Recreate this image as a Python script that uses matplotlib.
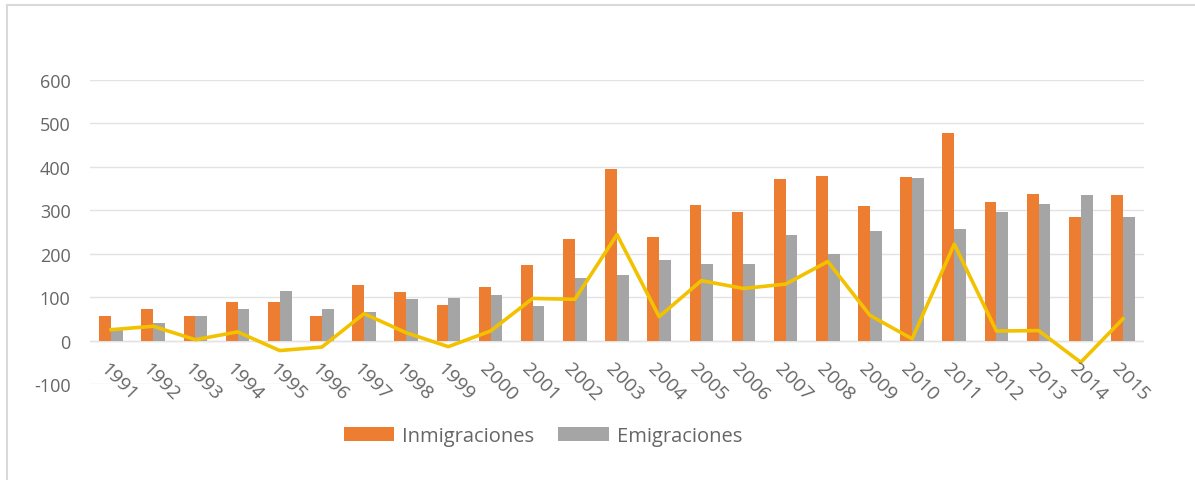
import numpy as np
import matplotlib.pyplot as plt
from matplotlib.lines import Line2D

years = [str(y) for y in range(1991, 2016)]
inmigraciones = [56, 73, 56, 88, 88, 56, 128, 111, 82, 124, 174, 235, 395, 238, 313,
                 295, 373, 379, 309, 376, 479, 318, 338, 285, 336]
emigraciones = [30, 40, 56, 72, 113, 72, 66, 96, 99, 104, 79, 145, 151, 185, 177,
                177, 243, 199, 253, 374, 258, 295, 315, 336, 285]
saldo = [25, 33, 2, 20, -23, -15, 62, 18, -14, 22, 97, 95, 244, 55, 138,
         120, 130, 182, 58, 4, 222, 22, 23, -50, 50]

plt.rcParams['font.family'] = ['Open Sans', 'DejaVu Sans']
plt.rcParams['axes.unicode_minus'] = False

fig = plt.figure(figsize=(11.95, 4.81), dpi=100)
ax = fig.add_axes([90 / 1195, 96 / 481, 1054 / 1195, 304 / 481])

x = np.arange(len(years))
w = 0.28
ax.bar(x - w / 2, inmigraciones, w, color='#ED7D31', label='Inmigraciones', zorder=2)
ax.bar(x + w / 2, emigraciones, w, color='#A5A5A5', label='Emigraciones', zorder=2)
ax.plot(x, saldo, color='#F2C200', lw=2.6, zorder=3)

ax.set_xlim(-0.5, len(years) - 0.5)
ax.set_ylim(-100, 600)
ax.set_yticks(range(-100, 601, 100))
ax.yaxis.grid(True, color='#E3E3E3', lw=1, zorder=0)
ax.set_axisbelow(True)
for s in ax.spines.values():
    s.set_visible(False)
ax.axhline(0, color='#E3E3E3', lw=1, zorder=1)
ax.tick_params(axis='both', length=0, colors='#666666', labelsize=13)
ax.tick_params(axis='y', pad=14)

ax.set_xticks(x)
ax.set_xticklabels([])
for i, yr in enumerate(years):
    ax.text(i - 0.05, -42, yr, rotation=-45, rotation_mode='anchor',
            ha='left', va='top', fontsize=14, color='#666666')

fig.legend(loc='center', bbox_to_anchor=(543 / 1195, 1 - 437 / 481), ncol=2, frameon=False,
           fontsize=14.5, labelcolor='#666666', handlelength=2.5, handleheight=0.7,
           handletextpad=0.4, columnspacing=1.2)

fig.add_artist(Line2D([7 / 1195, 1], [1 - 6 / 481, 1 - 6 / 481], color='#D9D9D9', lw=1.5))
fig.add_artist(Line2D([7 / 1195, 7 / 1195], [0, 1 - 6 / 481], color='#D9D9D9', lw=1.5))

fig.savefig('out.png', dpi=100)
